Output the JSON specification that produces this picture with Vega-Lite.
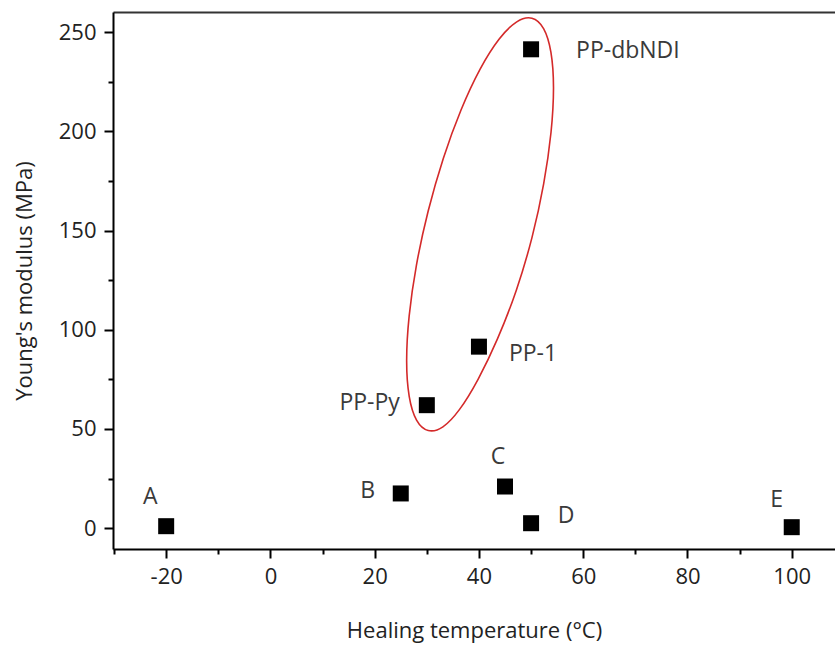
{
  "$schema": "https://vega.github.io/schema/vega-lite/v6.json",
  "width": 722,
  "height": 537,
  "autosize": {"type": "none"},
  "padding": {"left": 113, "top": 12, "right": 0, "bottom": 101},
  "background": "white",
  "config": {"view": {"stroke": null}, "font": "Open Sans"},
  "datasets": {
    "pts": [
      {"label": "A", "temp": -20, "modulus": 1},
      {"label": "B", "temp": 25, "modulus": 17.5},
      {"label": "C", "temp": 45, "modulus": 21},
      {"label": "D", "temp": 50, "modulus": 2.5},
      {"label": "E", "temp": 100, "modulus": 0.5},
      {"label": "PP-Py", "temp": 30, "modulus": 62},
      {"label": "PP-1", "temp": 40, "modulus": 91.5},
      {"label": "PP-dbNDI", "temp": 50, "modulus": 241.4}
    ],
    "ellipse": [
      {"i": 0, "x": 50.16, "y": 257.09},
      {"i": 1, "x": 52.40, "y": 251.85},
      {"i": 2, "x": 53.81, "y": 239.89},
      {"i": 3, "x": 54.30, "y": 222.01},
      {"i": 4, "x": 53.82, "y": 199.44},
      {"i": 5, "x": 52.42, "y": 173.72},
      {"i": 6, "x": 50.18, "y": 146.60},
      {"i": 7, "x": 47.17, "y": 119.94},
      {"i": 8, "x": 43.57, "y": 95.52},
      {"i": 9, "x": 39.83, "y": 75.05},
      {"i": 10, "x": 36.28, "y": 59.89},
      {"i": 11, "x": 33.09, "y": 51.09},
      {"i": 12, "x": 30.27, "y": 49.25},
      {"i": 13, "x": 28.03, "y": 54.49},
      {"i": 14, "x": 26.62, "y": 66.46},
      {"i": 15, "x": 26.13, "y": 84.34},
      {"i": 16, "x": 26.61, "y": 106.90},
      {"i": 17, "x": 28.01, "y": 132.63},
      {"i": 18, "x": 30.25, "y": 159.74},
      {"i": 19, "x": 33.16, "y": 186.41},
      {"i": 20, "x": 36.56, "y": 210.82},
      {"i": 21, "x": 40.20, "y": 231.30},
      {"i": 22, "x": 43.85, "y": 246.46},
      {"i": 23, "x": 47.25, "y": 255.25}
    ]
  },
  "resolve": {"axis": {"x": "independent", "y": "independent"}},
  "layer": [
    {
      "data": {"name": "ellipse"},
      "mark": {"type": "line", "interpolate": "cardinal-closed", "color": "#d42a2a", "strokeWidth": 1.6},
      "encoding": {
        "x": {
          "field": "x", "type": "quantitative",
          "scale": {"domain": [-30.2, 108.3], "nice": false, "zero": false},
          "axis": {
            "orient": "bottom",
            "values": [-30, -20, -10, 0, 10, 20, 30, 40, 50, 60, 70, 80, 90, 100],
            "labelExpr": "datum.value % 20 === 0 ? '' + datum.value : ''",
            "tickSize": {"condition": {"test": "datum.value % 20 === 0", "value": 9}, "value": 5},
            "tickWidth": 2, "tickColor": "black",
            "domainWidth": 2, "domainColor": "black",
            "grid": false,
            "labelFontSize": 22, "labelColor": "#222", "labelPadding": 8, "labelFont": "Open Sans",
            "title": "Healing temperature (°C)", "titleFontSize": 22, "titleFontWeight": "normal",
            "titleColor": "#222", "titlePadding": 33, "titleFont": "Open Sans",
            "labelFlush": false, "labelOverlap": false
          }
        },
        "y": {
          "field": "y", "type": "quantitative",
          "scale": {"domain": [-10.5, 260.2], "nice": false, "zero": false},
          "axis": {
            "orient": "left",
            "values": [0, 25, 50, 75, 100, 125, 150, 175, 200, 225, 250],
            "labelExpr": "datum.value % 50 === 0 ? '' + datum.value : ''",
            "tickSize": {"condition": {"test": "datum.value % 50 === 0", "value": 9}, "value": 5},
            "tickWidth": 2, "tickColor": "black",
            "domainWidth": 2, "domainColor": "black",
            "grid": false,
            "labelFontSize": 22, "labelColor": "#222", "labelPadding": 8, "labelFont": "Open Sans",
            "title": "Young's modulus (MPa)", "titleFontSize": 22, "titleFontWeight": "normal",
            "titleColor": "#222", "titlePadding": 22, "titleFont": "Open Sans",
            "labelFlush": false, "labelOverlap": false
          }
        },
        "order": {"field": "i", "type": "quantitative"}
      }
    },
    {
      "data": {"name": "pts"},
      "mark": {"type": "square", "size": 256, "color": "black", "filled": true, "opacity": 1},
      "encoding": {
        "x": {"field": "temp", "type": "quantitative", "axis": {"orient": "top", "labels": false, "ticks": false, "title": null, "grid": false, "domainWidth": 2, "domainColor": "#333"}},
        "y": {"field": "modulus", "type": "quantitative", "axis": null}
      }
    },
    {
      "data": {"name": "pts"},
      "transform": [{"filter": "datum.label === 'A'"}],
      "mark": {"type": "text", "fontSize": 23, "color": "#3a3a3a", "align": "center", "baseline": "middle", "dx": -16, "dy": -29},
      "encoding": {"x": {"field": "temp", "type": "quantitative", "axis": null}, "y": {"field": "modulus", "type": "quantitative", "axis": null}, "text": {"field": "label"}}
    },
    {
      "data": {"name": "pts"},
      "transform": [{"filter": "datum.label === 'B'"}],
      "mark": {"type": "text", "fontSize": 23, "color": "#3a3a3a", "align": "center", "baseline": "middle", "dx": -33, "dy": -2},
      "encoding": {"x": {"field": "temp", "type": "quantitative", "axis": null}, "y": {"field": "modulus", "type": "quantitative", "axis": null}, "text": {"field": "label"}}
    },
    {
      "data": {"name": "pts"},
      "transform": [{"filter": "datum.label === 'C'"}],
      "mark": {"type": "text", "fontSize": 23, "color": "#3a3a3a", "align": "center", "baseline": "middle", "dx": -7, "dy": -30},
      "encoding": {"x": {"field": "temp", "type": "quantitative", "axis": null}, "y": {"field": "modulus", "type": "quantitative", "axis": null}, "text": {"field": "label"}}
    },
    {
      "data": {"name": "pts"},
      "transform": [{"filter": "datum.label === 'D'"}],
      "mark": {"type": "text", "fontSize": 23, "color": "#3a3a3a", "align": "center", "baseline": "middle", "dx": 35, "dy": -7},
      "encoding": {"x": {"field": "temp", "type": "quantitative", "axis": null}, "y": {"field": "modulus", "type": "quantitative", "axis": null}, "text": {"field": "label"}}
    },
    {
      "data": {"name": "pts"},
      "transform": [{"filter": "datum.label === 'E'"}],
      "mark": {"type": "text", "fontSize": 23, "color": "#3a3a3a", "align": "center", "baseline": "middle", "dx": -15, "dy": -27},
      "encoding": {"x": {"field": "temp", "type": "quantitative", "axis": null}, "y": {"field": "modulus", "type": "quantitative", "axis": null}, "text": {"field": "label"}}
    },
    {
      "data": {"name": "pts"},
      "transform": [{"filter": "datum.label === 'PP-Py'"}],
      "mark": {"type": "text", "fontSize": 23, "color": "#3a3a3a", "align": "right", "baseline": "middle", "dx": -27, "dy": -2},
      "encoding": {"x": {"field": "temp", "type": "quantitative", "axis": null}, "y": {"field": "modulus", "type": "quantitative", "axis": null}, "text": {"field": "label"}}
    },
    {
      "data": {"name": "pts"},
      "transform": [{"filter": "datum.label === 'PP-1'"}],
      "mark": {"type": "text", "fontSize": 23, "color": "#3a3a3a", "align": "left", "baseline": "middle", "dx": 30, "dy": 7},
      "encoding": {"x": {"field": "temp", "type": "quantitative", "axis": null}, "y": {"field": "modulus", "type": "quantitative", "axis": null}, "text": {"field": "label"}}
    },
    {
      "data": {"name": "pts"},
      "transform": [{"filter": "datum.label === 'PP-dbNDI'"}],
      "mark": {"type": "text", "fontSize": 23, "color": "#3a3a3a", "align": "left", "baseline": "middle", "dx": 45, "dy": 2},
      "encoding": {"x": {"field": "temp", "type": "quantitative", "axis": null}, "y": {"field": "modulus", "type": "quantitative", "axis": null}, "text": {"field": "label"}}
    }
  ]
}
